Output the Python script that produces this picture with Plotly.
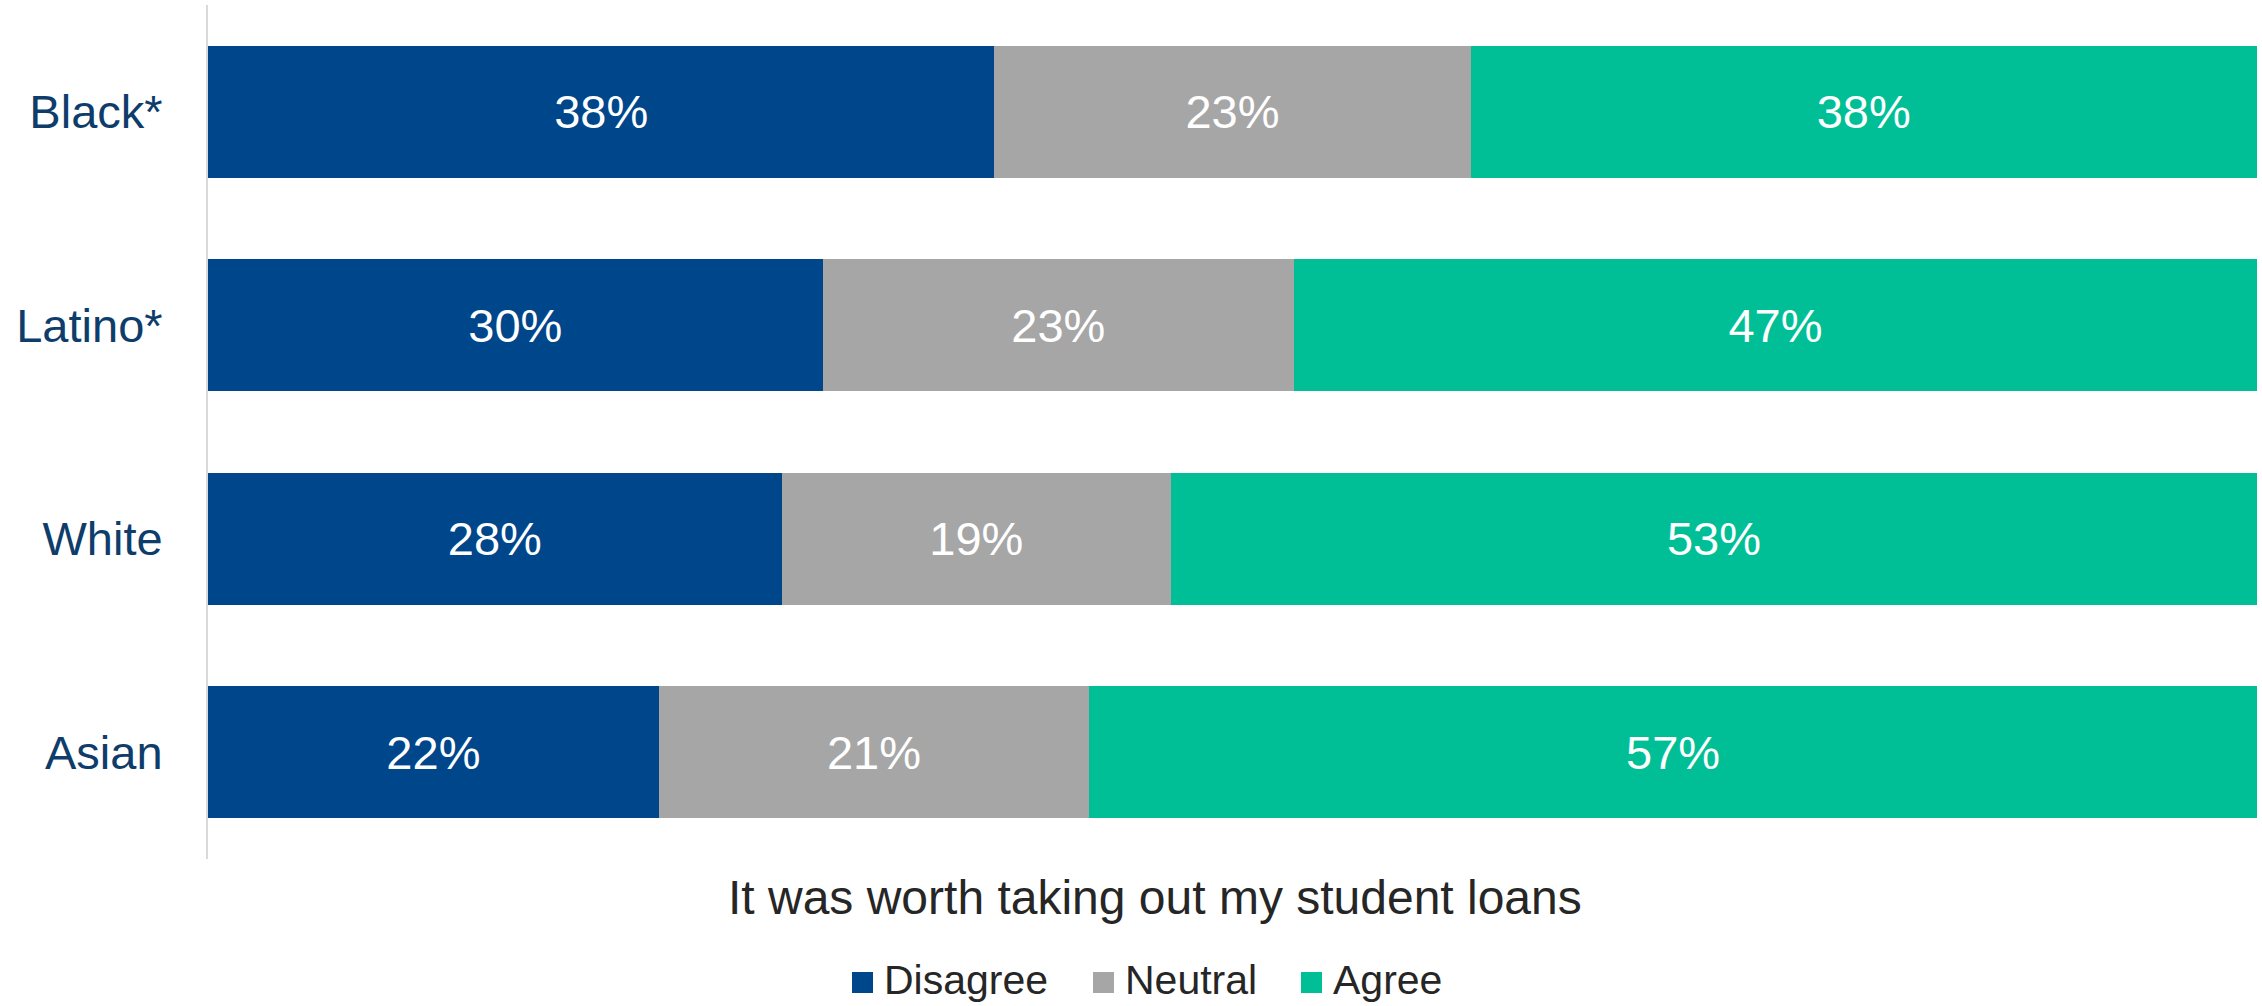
import plotly.graph_objects as go

categories = ["Black*", "Latino*", "White", "Asian"]
series_names = ["Disagree", "Neutral", "Agree"]
disagree = [38, 30, 28, 22]
neutral = [23, 23, 19, 21]
agree = [38, 47, 53, 57]
colors = ["#00468B", "#A6A6A6", "#00BF96"]
x_title = "It was worth taking out my student loans"

values = [disagree, neutral, agree]

W, H = 2262, 1006
L, R, T, B = 208, 5, 5, 147
pw, ph = W - L - R, H - T - B

def px_x(p):
    return (p - L) / pw

def px_y(p):
    return (H - B - p) / ph

FONT = "Liberation Sans, Arial, sans-serif"

fig = go.Figure()
for name, vals, col in zip(series_names, values, colors):
    fig.add_trace(go.Bar(
        y=categories, x=vals, name=name, orientation="h",
        marker=dict(color=col, line=dict(width=0)),
        text=[f"{v}%" for v in vals], textposition="inside",
        insidetextanchor="middle", textangle=0,
        textfont=dict(color="white", size=47, family=FONT),
        showlegend=False, hoverinfo="skip",
    ))

shapes = []
annotations = [dict(
    text=x_title, xref="paper", yref="paper", x=px_x(1154.5), y=px_y(897),
    xanchor="center", yanchor="middle", showarrow=False,
    font=dict(size=48, color="#262626", family=FONT),
)]

legend_sq_x = [852, 1093, 1301]
for name, col, sx in zip(series_names, colors, legend_sq_x):
    shapes.append(dict(type="rect", xref="paper", yref="paper",
                       x0=px_x(sx), x1=px_x(sx + 21), y0=px_y(993), y1=px_y(972),
                       fillcolor=col, line=dict(width=0)))
    annotations.append(dict(
        text=name, xref="paper", yref="paper", x=px_x(sx + 30), y=px_y(980),
        xanchor="left", yanchor="middle", showarrow=False,
        font=dict(size=41, color="#262626", family=FONT),
    ))

fig.update_layout(
    width=W, height=H,
    margin=dict(l=L, r=R, t=T, b=B, autoexpand=False),
    barmode="stack", barnorm="percent", bargap=0.382,
    plot_bgcolor="white", paper_bgcolor="white",
    showlegend=False,
    xaxis=dict(visible=False, range=[0, 100], fixedrange=True),
    yaxis=dict(
        autorange="reversed", showline=True, linecolor="#D9D9D9", linewidth=2,
        showgrid=False, zeroline=False, ticks="", ticklabelstandoff=34,
        tickfont=dict(size=47, color="#0E3D6B", family=FONT),
    ),
    shapes=shapes, annotations=annotations,
    uniformtext=dict(mode=False),
)

fig.write_html("out.html")
